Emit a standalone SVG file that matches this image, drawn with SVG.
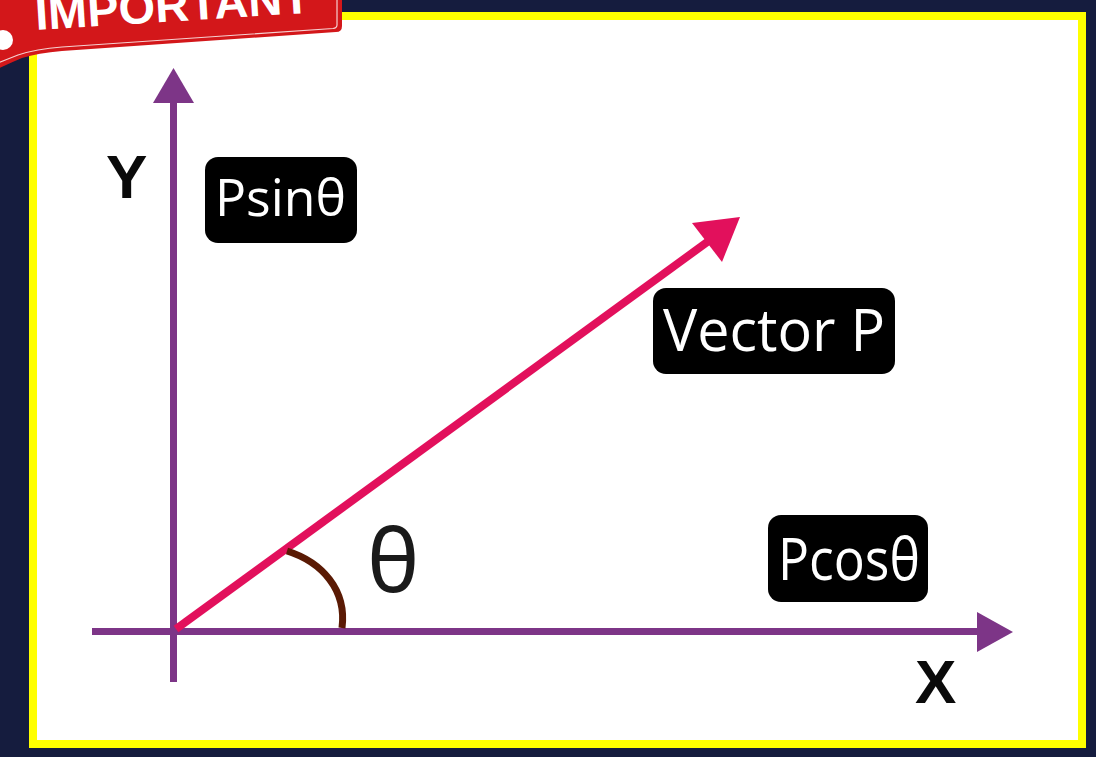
<svg xmlns="http://www.w3.org/2000/svg" width="1096" height="757" viewBox="0 0 1096 757">
  <defs>
    <style>
      .axis { stroke: #7d3587; stroke-width: 7; fill: none; }
      .axhead { fill: #7d3587; }
      .box { fill: #000000; }
      .lbl { font-family: "Open Sans", "Noto Sans", sans-serif; fill: #ffffff; }
      .ax { font-family: "Liberation Sans", Arial, sans-serif; font-weight: bold; font-size: 62px; fill: #0a0a0a; }
    </style>
  </defs>
  <rect x="0" y="0" width="1096" height="757" fill="#151c3e"/>
  <rect x="33" y="16" width="1049" height="728" fill="#ffffff" stroke="#ffff00" stroke-width="8"/>

  <g id="connectors">
    <line class="axis" x1="173.5" y1="100" x2="173.5" y2="682"/>
    <polygon class="axhead" points="173.5,68 153,103 194,103"/>
    <line class="axis" x1="92" y1="631.5" x2="980" y2="631.5"/>
    <polygon class="axhead" points="1013,632 977,612 977,652"/>
    <line x1="176" y1="629" x2="710" y2="240" stroke="#e2105c" stroke-width="8"/>
    <polygon points="740,217 692,223 722,262" fill="#e2105c"/>
    <path d="M 287 551 C 322 562 347 590 342 628" fill="none" stroke="#5a1a04" stroke-width="7"/>
  </g>

  <g id="label-y"><text class="ax" x="106" y="198">Y</text></g>
  <g id="label-x"><text class="ax" x="915" y="703">X</text></g>
  <g id="label-theta"><text x="367" y="592" font-family="Noto Sans, DejaVu Sans, sans-serif" font-size="88" fill="#1a1a1a">θ</text></g>

  <g id="node-psin">
    <rect class="box" x="205" y="157" width="152" height="86" rx="13"/>
    <text class="lbl" x="215" y="216" font-size="52" textLength="131" lengthAdjust="spacingAndGlyphs">Psinθ</text>
  </g>
  <g id="node-vector">
    <rect class="box" x="653" y="288" width="242" height="86" rx="13"/>
    <text class="lbl" x="663" y="351" font-size="59" textLength="222" lengthAdjust="spacingAndGlyphs">Vector P</text>
  </g>
  <g id="node-pcos">
    <rect class="box" x="768" y="515" width="160" height="87" rx="13"/>
    <text class="lbl" x="778" y="580" font-size="59" textLength="142" lengthAdjust="spacingAndGlyphs">Pcosθ</text>
  </g>

  <g id="banner">
    <path d="M -5 -10 L 342 -10 L 342 26 Q 342 32 336 32 L 62 51 Q 38 53 22 58 Q 10 63 -5 70 Z" fill="#d3171a"/>
    <path d="M 337 -10 L 337 25 Q 337 28 333 28.5 L 62 47 Q 36 49 18 55 Q 8 59 -5 64" fill="none" stroke="#ffffff" stroke-width="1.2" opacity="0.8"/>
    <circle cx="3" cy="40" r="10" fill="#ffffff"/>
    <text x="36" y="30" transform="rotate(-3.6 36 30)" font-family="Liberation Sans, Arial, sans-serif" font-weight="bold" font-size="46" fill="#ffffff" textLength="276" lengthAdjust="spacingAndGlyphs">IMPORTANT</text>
  </g>
</svg>
